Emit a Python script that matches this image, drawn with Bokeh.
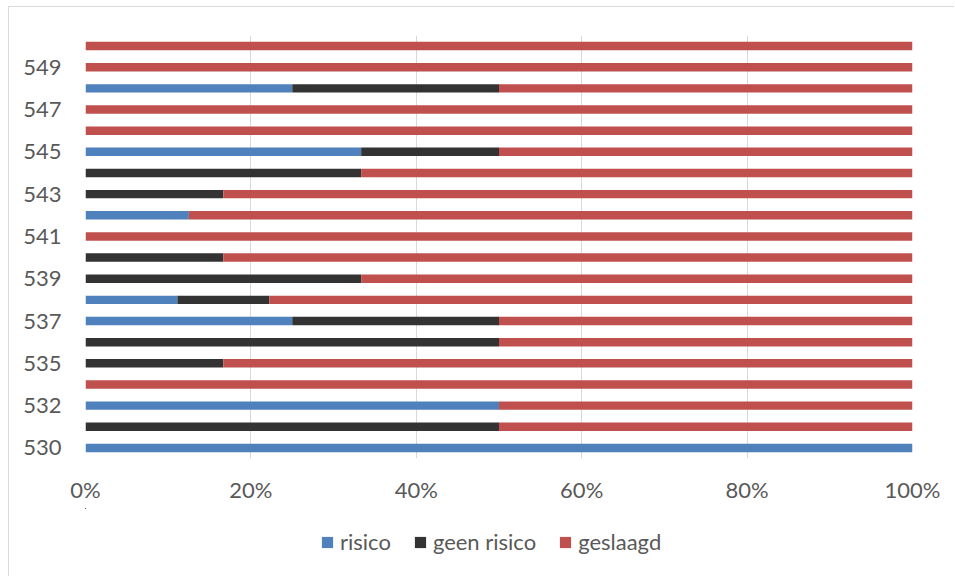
from bokeh.plotting import figure
from bokeh.layouts import column
from bokeh.models import (ColumnDataSource, Range1d, FixedTicker, NumeralTickFormatter,
                          Legend, LegendItem)
from bokeh.embed import file_html
from bokeh.resources import INLINE

categories = ["530", "531", "532", "533", "535", "536", "537", "538", "539", "540",
              "541", "542", "543", "544", "545", "546", "547", "548", "549", "550"]
risico =      [1.0, 0.0, 0.5, 0.0, 0.0, 0.0, 0.25, 1/9, 0.0, 0.0,
               0.0, 0.125, 0.0, 0.0, 1/3, 0.0, 0.0, 0.25, 0.0, 0.0]
geen_risico = [0.0, 0.5, 0.0, 0.0, 1/6, 0.5, 0.25, 1/9, 1/3, 1/6,
               0.0, 0.0, 1/6, 1/3, 1/6, 0.0, 0.0, 0.25, 0.0, 0.0]
geslaagd =    [0.0, 0.5, 0.5, 1.0, 5/6, 0.5, 0.5, 7/9, 2/3, 5/6,
               1.0, 0.875, 5/6, 2/3, 0.5, 1.0, 1.0, 0.5, 1.0, 1.0]
series_names = ["risico", "geen risico", "geslaagd"]
series_colors = ["#4F81BD", "#333333", "#C0504D"]
x_ticks = [0, 0.2, 0.4, 0.6, 0.8, 1.0]

idx = list(range(len(categories)))
data = dict(y=idx, risico=risico, geen=geen_risico, geslaagd=geslaagd)
source = ColumnDataSource(dict(data))

FONT = "Lato"
TXT = "#595959"

p = figure(width=945, height=501, output_backend="svg", toolbar_location=None,
           x_range=Range1d(0, 1), y_range=Range1d(-0.5, len(categories) - 0.5),
           min_border_left=76, min_border_right=42, min_border_top=28, min_border_bottom=50)
p.outline_line_color = None
p.background_fill_color = "white"
p.border_fill_color = "white"

renderers = p.hbar_stack(["risico", "geen", "geslaagd"], y="y", height=0.4,
                         color=series_colors, line_color=None, source=source)

p.ygrid.grid_line_color = None
p.xgrid.grid_line_color = "#d9d9d9"
p.xgrid.grid_line_width = 1
p.xgrid.ticker = FixedTicker(ticks=x_ticks)

p.xaxis.ticker = FixedTicker(ticks=x_ticks)
p.xaxis.formatter = NumeralTickFormatter(format="0%")
p.yaxis.ticker = FixedTicker(ticks=idx[::2])
p.yaxis.major_label_overrides = {i: categories[i] for i in idx[::2]}

for ax in (p.xaxis[0], p.yaxis[0]):
    ax.axis_line_color = None
    ax.major_tick_line_color = None
    ax.minor_tick_line_color = None
    ax.major_tick_out = 0
    ax.major_tick_in = 0
    ax.major_label_text_font = FONT
    ax.major_label_text_font_size = "22px"
    ax.major_label_text_color = TXT
p.xaxis.major_label_standoff = 17
p.yaxis.major_label_standoff = 24

# legend strip below the chart: stand-in bars (own source, zero height, off-range)
legend_source = ColumnDataSource(dict(data))
p2 = figure(width=945, height=68, output_backend="svg", toolbar_location=None,
            x_range=Range1d(10, 11), y_range=Range1d(-100, -99),
            min_border_left=0, min_border_right=0, min_border_top=0, min_border_bottom=0)
p2.axis.visible = False
p2.grid.visible = False
p2.outline_line_color = None
p2.background_fill_color = "white"
p2.border_fill_color = "white"
dummies = p2.hbar_stack(["risico", "geen", "geslaagd"], y="y", height=0,
                        color=series_colors, line_color=None, source=legend_source)
legend = Legend(items=[LegendItem(label=n, renderers=[r]) for n, r in zip(series_names, dummies)],
                orientation="horizontal", location=(235, 21), border_line_color=None,
                background_fill_alpha=0, label_text_font=FONT, label_text_font_size="22px",
                label_text_color=TXT, glyph_width=14, glyph_height=14, spacing=22,
                label_standoff=6, padding=4, margin=0)
p2.add_layout(legend, "center")

layout = column(p, p2, spacing=0)
layout.styles = {"border-left": "1px solid #d9d9d9", "border-top": "1px solid #d9d9d9",
                 "margin-left": "8px", "margin-top": "6px"}

open("out.html", "w").write(file_html(layout, INLINE))
